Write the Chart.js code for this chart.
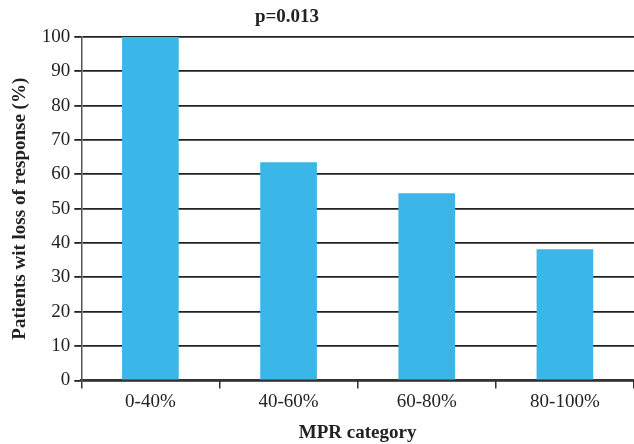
<html>
<head>
<style>
  body { margin: 0; background: #fff; }
  #wrap { width: 634px; height: 444px; }
</style>
</head>
<body>
<div id="wrap">
  <canvas id="myChart"></canvas>
</div>
<script src="https://cdn.jsdelivr.net/npm/chart.js"></script>
<script>
const categories = ['0-40%', '40-60%', '60-80%', '80-100%'];
const lossOfResponse = [100, 63.5, 54.5, 38.2];
const yTicks = [0, 10, 20, 30, 40, 50, 60, 70, 80, 90, 100];

const serif = "'Liberation Serif', 'DejaVu Serif', serif";

// title sits a bit left of the plot centre in the original
const pTitle = {
  id: 'pTitle',
  afterDraw(chart) {
    const ctx = chart.ctx;
    ctx.save();
    ctx.font = 'bold 19px ' + serif;
    ctx.fillStyle = '#222';
    ctx.textAlign = 'center';
    ctx.textBaseline = 'middle';
    ctx.fillText('p=0.013', 287, 17);
    ctx.restore();
  }
};

const data = {
  labels: categories,
  datasets: [{
    label: 'Patients',
    backgroundColor: '#3bb6e8',
    data: lossOfResponse,
    barPercentage: 0.41,
    categoryPercentage: 1.0,
  }]
};

const config = {
  type: 'bar',
  data: data,
  plugins: [pTitle],
  options: {
    responsive: true,
    maintainAspectRatio: false,
    animation: false,
    layout: { padding: { top: 37, right: 0, left: 9, bottom: 0 } },
    plugins: {
      legend: { display: false },
      tooltip: { enabled: false },
    },
    scales: {
      x: {
        grid: {
          offset: true,
          drawOnChartArea: false,
          drawTicks: true,
          tickLength: 8,
          color: '#333',
          lineWidth: 1.5,
        },
        border: { color: '#333', width: 2 },
        ticks: { color: '#222', font: { family: serif, size: 19 }, padding: 2 },
        title: {
          display: true,
          text: 'MPR category',
          color: '#222',
          font: { family: serif, size: 19, weight: 'bold' },
          padding: { top: 6, bottom: 0 },
        },
      },
      y: {
        min: 0,
        max: 100,
        afterBuildTicks: (axis) => { axis.ticks = yTicks.map(v => ({ value: v })); },
        grid: {
          color: '#222',
          lineWidth: 1.8,
          tickLength: 7,
        },
        border: { color: '#555', width: 1.5 },
        ticks: { color: '#222', font: { family: serif, size: 19 }, padding: 4 },
        title: {
          display: true,
          text: 'Patients wit loss of response (%)',
          color: '#222',
          font: { family: serif, size: 19, weight: 'bold' },
          padding: { top: 0, bottom: 6 },
        },
      },
    },
  },
};

const myChart = new Chart(
  document.getElementById('myChart'),
  config
);
</script>
</body>
</html>
